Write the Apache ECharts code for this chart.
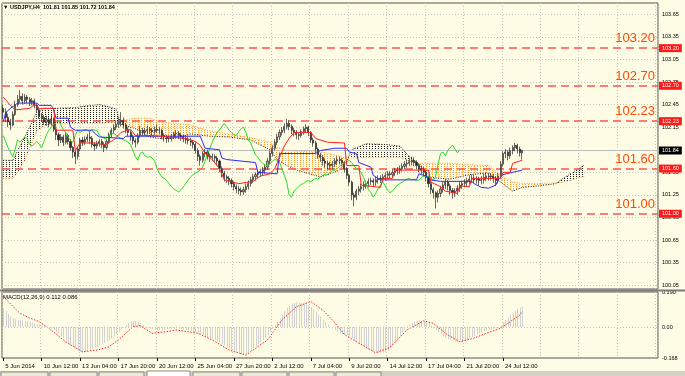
<!DOCTYPE html>
<html><head><meta charset="utf-8">
<script src="https://cdn.jsdelivr.net/npm/echarts/dist/echarts.min.js"></script>
<style>html,body{margin:0;padding:0;background:#fffce6}#c{width:685px;height:376px}</style>
</head><body><div id="c"></div><script>
const tickLabels = ['5 Jun 2014','10 Jun 12:00','13 Jun 04:00','17 Jun 20:00','20 Jun 12:00','25 Jun 04:00','27 Jun 20:00','2 Jul 12:00','7 Jul 04:00','9 Jul 20:00','14 Jul 12:00','17 Jul 04:00','21 Jul 20:00','24 Jul 12:00'];
const barsPerLabel = 16;
const totalSlots = 273;
const chikouShift = 26;
const priceTicks = [100.05,100.35,100.65,100.95,101.25,101.55,101.85,102.15,102.45,102.75,103.05,103.35,103.65];
const levels = [103.20, 102.70, 102.23, 101.60, 101.00];
const levelTexts = ['103.20','102.70','102.23','101.60','101.00'];
const bid = 101.84;
const bidText = '101.84';
const macdLabelValues = [-0.168, 0, 0.19];
const macdLabelTexts = ['-0.168', '0.00', '0.190'];

// [open, close, low, high]
const candles = [
[102.40,102.35,102.26,102.45],[102.35,102.28,102.22,102.40],[102.28,102.22,102.15,102.33],[102.22,102.18,102.11,102.26],
[102.18,102.32,102.16,102.36],[102.32,102.45,102.30,102.50],[102.45,102.52,102.42,102.58],[102.52,102.56,102.48,102.64],
[102.56,102.50,102.45,102.60],[102.50,102.55,102.46,102.59],[102.55,102.52,102.47,102.58],[102.52,102.48,102.43,102.55],
[102.48,102.50,102.44,102.54],[102.50,102.44,102.40,102.53],[102.44,102.38,102.34,102.47],[102.38,102.30,102.26,102.41],
[102.30,102.28,102.22,102.34],[102.28,102.22,102.18,102.31],[102.22,102.25,102.17,102.30],[102.25,102.20,102.15,102.28],
[102.20,102.26,102.17,102.31],[102.26,102.12,102.09,102.28],[102.12,102.05,101.98,102.15],[102.05,101.98,101.90,102.08],
[101.98,102.02,101.94,102.06],[102.02,101.95,101.90,102.05],[101.95,102.04,101.92,102.08],[102.04,101.96,101.92,102.06],
[101.96,101.88,101.84,101.99],[101.88,101.82,101.74,101.90],[101.82,101.76,101.66,101.84],[101.76,101.86,101.72,101.89],
[101.86,101.98,101.83,102.01],[101.98,101.95,101.90,102.02],[101.95,101.99,101.91,102.03],[101.99,102.02,101.95,102.06],
[102.02,102.00,101.93,102.10],[102.00,101.92,101.88,102.03],[101.92,101.90,101.84,101.95],[101.90,101.93,101.86,101.97],
[101.93,101.96,101.89,101.99],[101.96,101.92,101.87,101.99],[101.92,101.88,101.82,101.95],[101.88,101.96,101.85,101.99],
[101.96,102.05,101.93,102.08],[102.05,102.11,102.01,102.14],[102.11,102.15,102.07,102.19],[102.15,102.19,102.11,102.24],
[102.19,102.22,102.14,102.27],[102.22,102.24,102.16,102.35],[102.24,102.18,102.13,102.28],[102.18,102.12,102.07,102.21],
[102.12,102.08,102.03,102.15],[102.08,102.02,101.97,102.11],[102.02,101.97,101.92,102.05],[101.97,101.95,101.88,102.00],
[101.95,102.04,101.92,102.07],[102.04,102.11,102.01,102.17],[102.11,102.08,102.03,102.14],[102.08,102.10,102.04,102.14],
[102.10,102.12,102.06,102.17],[102.12,102.11,102.06,102.15],[102.11,102.09,102.04,102.14],[102.09,102.12,102.05,102.16],
[102.12,102.11,102.07,102.18],[102.11,102.11,102.06,102.15],[102.11,102.04,101.99,102.13],[102.04,102.02,101.96,102.07],
[102.02,102.00,101.94,102.05],[102.00,102.00,101.95,102.04],[102.00,102.03,101.96,102.06],[102.03,102.06,101.99,102.09],
[102.06,102.07,102.02,102.11],[102.07,102.04,101.99,102.10],[102.04,102.02,101.97,102.07],[102.02,102.00,101.95,102.05],
[102.00,101.98,101.93,102.04],[101.98,101.97,101.92,102.02],[101.97,101.95,101.90,102.01],[101.95,101.92,101.87,101.98],
[101.92,101.84,101.80,101.95],[101.84,101.76,101.70,101.87],[101.76,101.71,101.64,101.79],[101.71,101.80,101.68,101.83],
[101.80,101.82,101.75,101.86],[101.82,101.77,101.72,101.85],[101.77,101.75,101.69,101.80],[101.75,101.76,101.70,101.80],
[101.76,101.74,101.68,101.79],[101.74,101.70,101.64,101.77],[101.70,101.60,101.55,101.72],[101.60,101.54,101.48,101.63],
[101.54,101.49,101.43,101.57],[101.49,101.47,101.41,101.52],[101.47,101.44,101.38,101.50],[101.44,101.40,101.35,101.47],
[101.40,101.36,101.31,101.43],[101.36,101.33,101.27,101.39],[101.33,101.31,101.26,101.37],[101.31,101.29,101.24,101.35],
[101.29,101.32,101.25,101.36],[101.32,101.36,101.28,101.40],[101.36,101.40,101.32,101.44],[101.40,101.45,101.36,101.49],
[101.45,101.49,101.41,101.53],[101.49,101.52,101.44,101.55],[101.52,101.54,101.47,101.58],[101.54,101.56,101.49,101.60],
[101.56,101.58,101.51,101.62],[101.58,101.62,101.53,101.66],[101.62,101.70,101.58,101.74],[101.70,101.80,101.66,101.84],
[101.80,101.87,101.76,101.91],[101.87,101.95,101.84,101.99],[101.95,102.02,101.91,102.06],[102.02,102.08,101.98,102.12],
[102.08,102.11,102.04,102.15],[102.11,102.16,102.07,102.20],[102.16,102.20,102.12,102.26],[102.20,102.16,102.11,102.24],
[102.16,102.11,102.06,102.19],[102.11,102.08,102.03,102.14],[102.08,102.05,101.99,102.11],[102.05,102.04,101.98,102.08],
[102.04,102.09,102.01,102.12],[102.09,102.13,102.05,102.16],[102.13,102.15,102.08,102.19],[102.15,102.08,102.03,102.17],
[102.08,101.98,101.94,102.10],[101.98,101.94,101.89,102.01],[101.94,101.86,101.81,101.97],[101.86,101.78,101.73,101.88],
[101.78,101.75,101.69,101.81],[101.75,101.70,101.64,101.78],[101.70,101.67,101.61,101.73],[101.67,101.65,101.59,101.70],
[101.65,101.64,101.58,101.69],[101.64,101.66,101.59,101.70],[101.66,101.70,101.62,101.74],[101.70,101.72,101.65,101.76],
[101.72,101.71,101.66,101.76],[101.71,101.68,101.63,101.74],[101.68,101.60,101.55,101.70],[101.60,101.51,101.46,101.62],
[101.51,101.42,101.37,101.53],[101.42,101.25,101.18,101.44],[101.25,101.22,101.10,101.28],[101.22,101.30,101.18,101.33],
[101.30,101.33,101.25,101.37],[101.33,101.36,101.28,101.40],[101.36,101.39,101.31,101.43],[101.39,101.40,101.33,101.44],
[101.40,101.43,101.35,101.47],[101.43,101.44,101.38,101.48],[101.44,101.42,101.36,101.47],[101.42,101.45,101.37,101.49],
[101.45,101.47,101.40,101.51],[101.47,101.46,101.41,101.51],[101.46,101.49,101.42,101.53],[101.49,101.51,101.44,101.55],
[101.51,101.53,101.46,101.57],[101.53,101.52,101.47,101.57],[101.52,101.55,101.48,101.59],[101.55,101.57,101.50,101.61],
[101.57,101.58,101.52,101.62],[101.58,101.60,101.53,101.64],[101.60,101.63,101.56,101.67],[101.63,101.66,101.59,101.70],
[101.66,101.67,101.61,101.72],[101.67,101.69,101.63,101.74],[101.69,101.71,101.64,101.76],[101.71,101.68,101.63,101.75],
[101.68,101.64,101.59,101.71],[101.64,101.60,101.55,101.67],[101.60,101.58,101.53,101.64],[101.58,101.55,101.49,101.62],
[101.55,101.48,101.43,101.58],[101.48,101.40,101.35,101.50],[101.40,101.32,101.26,101.43],[101.32,101.28,101.20,101.35],
[101.28,101.22,101.07,101.30],[101.22,101.27,101.15,101.31],[101.27,101.33,101.22,101.37],[101.33,101.38,101.28,101.42],
[101.38,101.42,101.33,101.46],[101.42,101.37,101.31,101.45],[101.37,101.31,101.25,101.40],[101.31,101.28,101.20,101.34],
[101.28,101.30,101.22,101.34],[101.30,101.34,101.25,101.38],[101.34,101.38,101.29,101.42],[101.38,101.40,101.33,101.44],
[101.40,101.42,101.35,101.46],[101.42,101.44,101.37,101.48],[101.44,101.46,101.39,101.51],[101.46,101.47,101.41,101.52],
[101.47,101.45,101.40,101.52],[101.45,101.46,101.40,101.50],[101.46,101.44,101.38,101.49],[101.44,101.45,101.39,101.50],
[101.45,101.48,101.40,101.53],[101.48,101.50,101.43,101.55],[101.50,101.49,101.44,101.54],[101.49,101.50,101.44,101.54],
[101.50,101.47,101.41,101.53],[101.47,101.44,101.37,101.50],[101.44,101.50,101.40,101.54],[101.50,101.66,101.48,101.70],
[101.66,101.80,101.63,101.83],[101.80,101.82,101.74,101.86],[101.82,101.77,101.71,101.84],[101.77,101.84,101.73,101.88],
[101.84,101.88,101.79,101.91],[101.88,101.91,101.83,101.94],[101.91,101.86,101.80,101.93],[101.86,101.81,101.76,101.89],
[101.81,101.84,101.72,101.85]
];

// [barIndex, value]
const tenkan = [[0,102.55],[3,102.44],[5,102.38],[11,102.40],[13,102.45],[15,102.40],[21,102.40],[22,102.11],[29,102.11],[30,101.84],[32,101.94],[39,101.94],[42,101.91],[46,101.98],[49,102.08],[53,102.12],[55,102.04],[62,102.04],[76,102.00],[80,101.96],[82,101.91],[84,101.80],[87,101.72],[90,101.60],[92,101.45],[98,101.40],[104,101.43],[107,101.50],[111,101.53],[113,101.60],[115,101.75],[117,101.90],[119,102.00],[121,102.08],[128,102.08],[130,102.00],[135,101.95],[142,101.94],[143,101.64],[148,101.64],[149,101.38],[157,101.35],[158,101.47],[162,101.47],[163,101.58],[177,101.58],[178,101.42],[182,101.36],[184,101.30],[189,101.27],[190,101.37],[194,101.36],[195,101.47],[207,101.47],[208,101.55],[211,101.55],[212,101.67],[216,101.71]];
const kijun = [[0,102.22],[1,102.34],[3,102.40],[6,102.47],[14,102.47],[15,102.44],[20,102.44],[21,102.38],[22,102.27],[27,102.27],[28,102.15],[30,102.11],[37,102.11],[38,102.07],[40,102.02],[50,102.00],[51,102.03],[82,102.03],[83,101.95],[84,101.87],[90,101.85],[91,101.74],[93,101.72],[105,101.68],[106,101.55],[114,101.53],[115,101.80],[130,101.80],[132,101.84],[138,101.87],[143,101.87],[144,101.82],[147,101.80],[148,101.68],[153,101.62],[154,101.51],[156,101.47],[157,101.45],[172,101.45],[173,101.53],[176,101.50],[178,101.45],[182,101.43],[195,101.43],[196,101.40],[199,101.35],[202,101.34],[205,101.38],[206,101.45],[208,101.52],[216,101.58]];

const cloudIdx = [0,4,6,9,12,14,17,22,30,36,40,44,47,49,55,61,65,71,78,86,94,103,111,114,118,123,132,136,140,143,145,151,159,165,169,173,178,186,194,202,207,212,216,223,230,233,237,242];
const spanA = [101.71,101.71,101.84,102.02,102.22,102.35,102.40,102.40,102.41,102.44,102.45,102.42,102.39,102.19,102.13,102.02,102.00,102.00,102.06,102.03,102.02,101.98,101.85,101.72,101.64,101.57,101.49,101.53,101.58,101.70,101.85,101.93,101.92,101.90,101.76,101.66,101.48,101.46,101.52,101.54,101.42,101.30,101.35,101.37,101.40,101.47,101.55,101.65];
const spanB = [101.47,101.47,101.55,101.71,101.95,102.10,102.17,102.20,102.20,102.20,102.20,102.21,102.22,102.24,102.27,102.27,102.22,102.20,102.18,102.10,102.06,102.01,101.95,101.88,101.84,101.83,101.82,101.80,101.76,101.74,101.74,101.75,101.75,101.75,101.70,101.67,101.67,101.67,101.65,101.64,101.52,101.42,101.40,101.40,101.41,101.42,101.45,101.50];

const macdMain = [
0.100,0.085,0.070,0.058,0.050,0.045,0.040,0.037,0.035,0.033,0.030,0.027,0.024,0.020,0.016,0.012,0.008,0.004,0.002,-0.002,
-0.008,-0.015,-0.025,-0.037,-0.050,-0.062,-0.075,-0.088,-0.100,-0.110,-0.120,-0.128,-0.135,-0.140,-0.138,-0.132,-0.125,-0.118,-0.112,-0.105,
-0.098,-0.092,-0.086,-0.080,-0.072,-0.062,-0.050,-0.038,-0.025,-0.012,0.000,0.012,0.022,0.028,0.032,0.033,0.030,0.022,0.012,0.004,
-0.004,-0.010,-0.014,-0.016,-0.017,-0.016,-0.015,-0.014,-0.012,-0.011,-0.010,-0.009,-0.008,-0.009,-0.011,-0.013,-0.016,-0.019,-0.022,-0.025,
-0.028,-0.032,-0.038,-0.045,-0.050,-0.055,-0.060,-0.066,-0.072,-0.078,-0.085,-0.092,-0.100,-0.108,-0.116,-0.124,-0.131,-0.138,-0.144,-0.149,
-0.150,-0.146,-0.138,-0.128,-0.117,-0.105,-0.094,-0.083,-0.071,-0.058,-0.044,-0.028,-0.010,0.008,0.028,0.048,0.068,0.088,0.104,0.117,
0.126,0.131,0.133,0.132,0.130,0.128,0.124,0.118,0.108,0.096,0.082,0.068,0.054,0.040,0.027,0.015,0.003,-0.008,-0.018,-0.026,
-0.032,-0.036,-0.040,-0.044,-0.050,-0.060,-0.072,-0.083,-0.093,-0.102,-0.110,-0.117,-0.123,-0.128,-0.133,-0.137,-0.140,-0.141,-0.140,-0.136,
-0.128,-0.116,-0.100,-0.082,-0.064,-0.047,-0.031,-0.016,-0.003,0.010,0.020,0.028,0.033,0.035,0.035,0.033,0.028,0.020,0.010,-0.002,
-0.016,-0.030,-0.042,-0.052,-0.060,-0.066,-0.071,-0.075,-0.078,-0.080,-0.080,-0.078,-0.074,-0.069,-0.062,-0.055,-0.048,-0.041,-0.034,-0.028,
-0.023,-0.019,-0.015,-0.012,-0.009,-0.006,-0.002,0.008,0.024,0.040,0.054,0.066,0.078,0.089,0.098,0.106,0.112
];
const macdSignal = [[0,0.165],[7,0.074],[11,0.049],[15,0.029],[19,-0.007],[26,-0.080],[33,-0.134],[39,-0.125],[44,-0.107],[48,-0.070],[54,0.002],[57,0.008],[62,-0.034],[68,-0.025],[72,-0.016],[81,-0.034],[87,-0.070],[94,-0.125],[101,-0.152],[110,-0.070],[116,0.038],[122,0.110],[128,0.138],[133,0.092],[137,0.038],[142,-0.040],[147,-0.080],[155,-0.140],[161,-0.110],[168,-0.016],[175,0.034],[179,0.020],[185,-0.043],[190,-0.080],[196,-0.060],[201,-0.034],[207,-0.007],[215,0.065],[216,0.086]];

const FONT = 'Liberation Sans';
const BG = '#fffce6';
const categories = Array.from({length: totalSlots}, (_, i) => String(i));
const isLabelSlot = (idx) => idx % barsPerLabel === 0 && (idx / barsPerLabel) < tickLabels.length;
const isGridSlot = (idx) => idx % barsPerLabel === 0;
const chikou = candles.slice(chikouShift).map((c, k) => [k, c[1]]);
const cloudSegs = [];
for (let k = 0; k < cloudIdx.length - 1; k++) {
  cloudSegs.push([cloudIdx[k], spanA[k], spanB[k], cloudIdx[k+1], spanA[k+1], spanB[k+1]]);
}
function makeDots(color) {
  const cv = document.createElement('canvas');
  cv.width = 3; cv.height = 2;
  const ctx = cv.getContext('2d');
  ctx.fillStyle = color;
  ctx.fillRect(0, 0, 1, 1);
  return {image: cv, repeat: 'repeat'};
}
const patA = makeDots('#1a1a1a');
const patB = makeDots('#ff9a2e');
function renderCloud(params, api) {
  const i0 = api.value(0), a0 = api.value(1), b0 = api.value(2);
  const i1 = api.value(3), a1 = api.value(4), b1 = api.value(5);
  const A0 = api.coord([i0, a0]), B0 = api.coord([i0, b0]);
  const A1 = api.coord([i1, a1]), B1 = api.coord([i1, b1]);
  const d0 = a0 - b0, d1 = a1 - b1;
  const children = [];
  const fillFor = (up) => up ? patA : patB;
  if (d0 * d1 < 0) {
    const t = d0 / (d0 - d1);
    const C = [A0[0] + t * (A1[0] - A0[0]), A0[1] + t * (A1[1] - A0[1])];
    children.push({type: 'polygon', shape: {points: [A0, C, B0]}, style: {fill: fillFor(d0 > 0), stroke: null}});
    children.push({type: 'polygon', shape: {points: [C, A1, B1]}, style: {fill: fillFor(d1 > 0), stroke: null}});
  } else {
    children.push({type: 'polygon', shape: {points: [A0, A1, B1, B0]}, style: {fill: fillFor(d0 + d1 > 0), stroke: null}});
  }
  return {type: 'group', children};
}
function renderHist(params, api) {
  const i = api.value(0), v = api.value(1);
  const p0 = api.coord([i, 0]), p1 = api.coord([i, v]);
  const x = Math.round(p0[0]);
  const yTop = Math.min(p0[1], p1[1]), h = Math.abs(p1[1] - p0[1]);
  return {type: 'rect', shape: {x: x, y: yTop, width: 1, height: Math.max(h, 0.5)},
          style: {fill: '#d2d2d2', stroke: null, lineWidth: 0}};
}
const priceLabel = (v) => priceTicks.some(t => Math.abs(t - v) < 1e-6) ? v.toFixed(2) : '';
const macdLabel = (v) => {
  for (let k = 0; k < macdLabelValues.length; k++) if (Math.abs(macdLabelValues[k] - v) < 1e-6) return macdLabelTexts[k];
  return '';
};

const chart = echarts.init(document.getElementById('c'), null, {renderer: 'canvas'});
const gridLine = {color: '#c4c4bc', type: [1, 2], width: 1};
chart.setOption({
  animation: false,
  backgroundColor: BG,
  textStyle: {fontFamily: FONT},
  title: [
    {text: '\u25BC USDJPY,H4  101.81 101.85 101.72 101.84', left: 3, top: 4, padding: 0,
     textStyle: {fontSize: 5.5, fontWeight: 'bold', color: '#000', fontFamily: FONT}},
    {text: 'MACD(12,26,9) 0.112 0.086', left: 3, top: 294, padding: 0,
     textStyle: {fontSize: 6, fontWeight: 'normal', color: '#000', fontFamily: FONT}}
  ],
  grid: [
    {left: 2, top: 3, width: 656, height: 286, show: true, borderColor: '#555', borderWidth: 1, backgroundColor: 'transparent', outerBoundsMode: 'none', containLabel: false},
    {left: 2, top: 292, width: 656, height: 66, show: true, borderColor: '#555', borderWidth: 1, backgroundColor: 'transparent', outerBoundsMode: 'none', containLabel: false}
  ],
  xAxis: [
    {gridIndex: 0, type: 'category', data: categories, boundaryGap: true,
     axisLine: {show: false, onZero: false}, axisTick: {show: false}, axisLabel: {show: false},
     splitLine: {show: true, interval: (i) => isGridSlot(i), lineStyle: gridLine}},
    {gridIndex: 1, type: 'category', data: categories, boundaryGap: true, position: 'bottom',
     axisLine: {show: false, onZero: false},
     axisTick: {show: true, interval: (i) => isLabelSlot(i), alignWithLabel: true, length: 3, lineStyle: {color: '#000'}},
     axisLabel: {show: true, interval: (i) => isLabelSlot(i), align: 'left', margin: 5, fontSize: 6, color: '#000', fontFamily: FONT,
       padding: [0, 0, 0, 2],
       formatter: (v, idx) => isLabelSlot(idx) ? tickLabels[idx / barsPerLabel] : ''},
     splitLine: {show: true, interval: (i) => isGridSlot(i), lineStyle: gridLine}}
  ],
  yAxis: [
    {gridIndex: 0, type: 'value', position: 'right', min: 100.0, max: 103.8, interval: 0.05, scale: true,
     axisLine: {show: false}, axisTick: {show: false}, splitLine: {show: false},
     axisLabel: {show: true, margin: 4, fontSize: 5.5, color: '#000', fontFamily: FONT, formatter: priceLabel}},
    {gridIndex: 1, type: 'value', position: 'right', min: -0.168, max: 0.19, interval: 0.168,
     axisLine: {show: false}, axisTick: {show: false}, splitLine: {show: false},
     axisLabel: {show: true, margin: 4, fontSize: 5.5, color: '#000', fontFamily: FONT, formatter: macdLabel,
       showMinLabel: true, showMaxLabel: true}}
  ],
  series: [
    {name: 'hgrid', type: 'line', xAxisIndex: 0, yAxisIndex: 0, data: [], z: 1, silent: true,
     markLine: {silent: true, symbol: ['none', 'none'], label: {show: false},
       lineStyle: gridLine, data: priceTicks.map(v => ({yAxis: v}))}},
    {name: 'cloud', type: 'custom', xAxisIndex: 0, yAxisIndex: 0, data: cloudSegs, renderItem: renderCloud,
     encode: {x: 0, y: 1}, z: 2, silent: true, clip: true},
    {name: 'spanB', type: 'line', xAxisIndex: 0, yAxisIndex: 0, data: cloudIdx.map((i, k) => [i, spanB[k]]),
     showSymbol: false, lineStyle: {color: '#ff9a2e', width: 1, type: [1, 1.5]}, z: 3, silent: true},
    {name: 'spanA', type: 'line', xAxisIndex: 0, yAxisIndex: 0, data: cloudIdx.map((i, k) => [i, spanA[k]]),
     showSymbol: false, lineStyle: {color: '#1a1a1a', width: 1, type: [1, 1.5]}, z: 3, silent: true},
    {name: 'levels', type: 'line', xAxisIndex: 0, yAxisIndex: 0, data: [], z: 4, silent: true,
     markLine: {silent: true, symbol: ['none', 'none'],
       lineStyle: {color: '#ff5050', width: 1.5, type: [8, 5]},
       label: {show: true, position: 'end', distance: 1, color: '#fff', backgroundColor: '#ff1a1a',
         fontSize: 5.5, fontFamily: FONT, padding: [1, 3, 1, 3]},
       data: levels.map((v, k) => ({yAxis: v, label: {formatter: levelTexts[k]}}))}},
    {name: 'levelText', type: 'line', xAxisIndex: 0, yAxisIndex: 0, data: [], z: 4, silent: true,
     markLine: {silent: true, symbol: ['none', 'none'],
       lineStyle: {color: 'rgba(0,0,0,0)', width: 1, type: 'solid'},
       label: {show: true, position: 'insideEndTop', distance: [3, 3], color: '#ff4a00',
         fontSize: 13, fontFamily: FONT, opacity: 1},
       data: levels.map((v, k) => ({yAxis: v, label: {formatter: levelTexts[k]}}))}},
    {name: 'bid', type: 'line', xAxisIndex: 0, yAxisIndex: 0, data: [], z: 4, silent: true,
     markLine: {silent: true, symbol: ['none', 'none'],
       lineStyle: {color: '#bdbdbd', width: 1, type: 'solid'},
       label: {show: true, position: 'end', distance: 1, color: '#fff', backgroundColor: '#000',
         fontSize: 5.5, fontFamily: FONT, padding: [1, 3, 1, 3], formatter: bidText},
       data: [{yAxis: bid}]}},
    {name: 'candles', type: 'candlestick', xAxisIndex: 0, yAxisIndex: 0, data: candles, barWidth: 1.6, z: 5,
     itemStyle: {color: '#a9b096', color0: '#262626', borderColor: '#2a2a2a', borderColor0: '#262626', borderWidth: 0.7}},
    {name: 'chikou', type: 'line', xAxisIndex: 0, yAxisIndex: 0, data: chikou, showSymbol: false,
     lineStyle: {color: '#22dd22', width: 1}, z: 6, silent: true},
    {name: 'kijun', type: 'line', xAxisIndex: 0, yAxisIndex: 0, data: kijun, showSymbol: false,
     lineStyle: {color: '#2a2aff', width: 1}, z: 6, silent: true},
    {name: 'tenkan', type: 'line', xAxisIndex: 0, yAxisIndex: 0, data: tenkan, showSymbol: false,
     lineStyle: {color: '#ff2020', width: 1}, z: 6, silent: true},
    {name: 'macd', type: 'custom', xAxisIndex: 1, yAxisIndex: 1, data: macdMain.map((v, i) => [i, v]),
     renderItem: renderHist, encode: {x: 0, y: 1}, z: 3, silent: true},
    {name: 'zero', type: 'line', xAxisIndex: 1, yAxisIndex: 1, data: [], z: 2, silent: true,
     markLine: {silent: true, symbol: ['none', 'none'], label: {show: false},
       lineStyle: gridLine, data: [{yAxis: 0}]}},
    {name: 'signal', type: 'line', xAxisIndex: 1, yAxisIndex: 1, data: macdSignal, showSymbol: false,
     lineStyle: {color: '#ff2020', width: 1, type: [1.5, 1.5]}, z: 4, silent: true}
  ],
  graphic: [
    {type: 'rect', shape: {x: 0, y: 289.5, width: 685, height: 2}, style: {fill: '#7a7a7a'}, z: 100},
    {type: 'rect', shape: {x: 0, y: 371, width: 685, height: 5}, style: {fill: '#d4d0c8'}, z: 100},
    {type: 'rect', shape: {x: 1, y: 372, width: 47, height: 6}, style: {fill: '#ece9d8', stroke: '#8a8a8a', lineWidth: 1}, z: 101},
    {type: 'rect', shape: {x: 50, y: 372, width: 47, height: 6}, style: {fill: '#ece9d8', stroke: '#8a8a8a', lineWidth: 1}, z: 101},
    {type: 'rect', shape: {x: 99, y: 372, width: 45, height: 6}, style: {fill: '#ece9d8', stroke: '#8a8a8a', lineWidth: 1}, z: 101},
    {type: 'rect', shape: {x: 147, y: 371, width: 43, height: 7}, style: {fill: '#ffffff', stroke: '#8a8a8a', lineWidth: 1}, z: 101},
    {type: 'rect', shape: {x: 193, y: 372, width: 47, height: 6}, style: {fill: '#ece9d8', stroke: '#8a8a8a', lineWidth: 1}, z: 101},
    {type: 'rect', shape: {x: 242, y: 372, width: 45, height: 6}, style: {fill: '#ece9d8', stroke: '#8a8a8a', lineWidth: 1}, z: 101},
    {type: 'rect', shape: {x: 289, y: 372, width: 45, height: 6}, style: {fill: '#ece9d8', stroke: '#8a8a8a', lineWidth: 1}, z: 101},
    {type: 'rect', shape: {x: 336, y: 372, width: 45, height: 6}, style: {fill: '#ece9d8', stroke: '#8a8a8a', lineWidth: 1}, z: 101}
  ]
});
</script></body></html>
